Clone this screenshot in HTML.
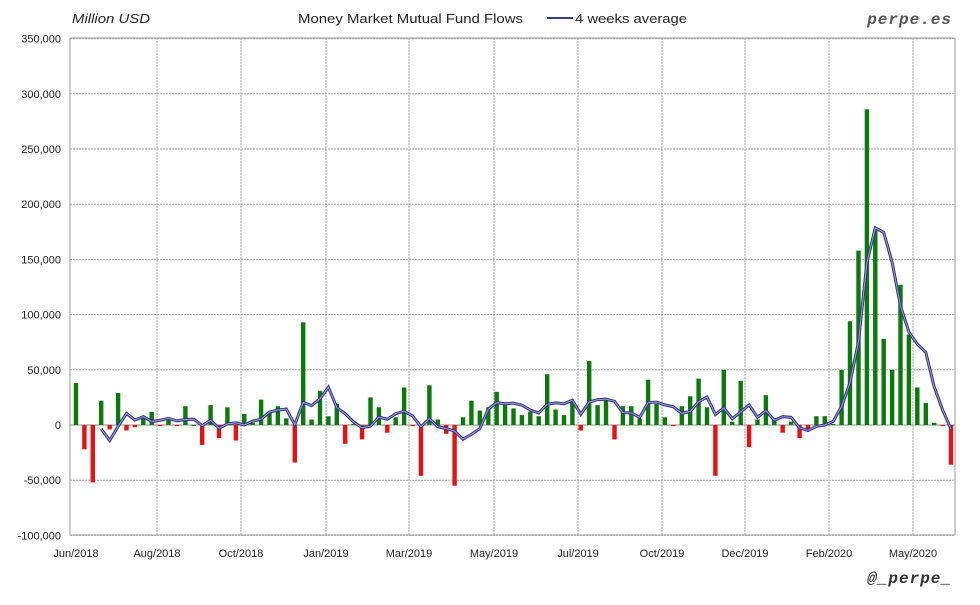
<!DOCTYPE html>
<html><head><meta charset="utf-8"><style>
html,body{margin:0;padding:0;background:#fff;}
svg text{font-family:"Liberation Sans",sans-serif;}
</style></head><body>
<svg id="s" width="980" height="600" xmlns="http://www.w3.org/2000/svg">
<text x="72" y="23" font-size="13" font-style="italic" fill="#222" textLength="78" lengthAdjust="spacingAndGlyphs">Million USD</text>
<text x="298" y="23" font-size="13" fill="#222" textLength="225" lengthAdjust="spacingAndGlyphs">Money Market Mutual Fund Flows</text>
<line x1="547" y1="18" x2="573" y2="18" stroke="#3a3a8a" stroke-width="2"/>
<text x="575" y="23" font-size="13" fill="#222" textLength="112" lengthAdjust="spacingAndGlyphs">4 weeks average</text>
<text x="952" y="24" font-size="16" font-weight="bold" font-style="italic" fill="#555" text-anchor="end" font-family="Liberation Mono" style="font-family:'Liberation Mono',monospace" letter-spacing="1">perpe.es</text>
<text x="952" y="583" font-size="16" font-weight="bold" font-style="italic" fill="#333" text-anchor="end" style="font-family:'Liberation Mono',monospace" letter-spacing="1">@_perpe_</text>
<g id="g"></g>
</svg>
<script>
var g=document.getElementById('g'),h='';
var L=70,R=955,T=38,B=535;
function y(v){return 425-v*1.104;}
for(var v=-100;v<=350;v+=50){var yy=y(v).toFixed(1);
h+='<line x1="'+L+'" x2="'+R+'" y1="'+yy+'" y2="'+yy+'" stroke="#aaa" stroke-dasharray="2,1"/>';
var s=v==0?'0':(v<0?'-':'')+Math.abs(v)+',000';
h+='<text x="61" y="'+(+yy+4)+'" font-size="11" text-anchor="end" fill="#222">'+s+'</text>';}
var xl=[[76,'Jun/2018',0],[157,'Aug/2018',1],[241,'Oct/2018',1],[326,'Jan/2019',1],[409,'Mar/2019',1],[494,'May/2019',1],[578,'Jul/2019',1],[662,'Oct/2019',1],[745,'Dec/2019',1],[829,'Feb/2020',1],[913,'May/2020',1]];
xl.forEach(function(a){if(a[2])h+='<line x1="'+a[0]+'" x2="'+a[0]+'" y1="'+T+'" y2="'+B+'" stroke="#aaa" stroke-dasharray="2,1"/>';
h+='<text x="'+a[0]+'" y="557" font-size="11" text-anchor="middle" fill="#222">'+a[1]+'</text>';});
h+='<rect x="'+L+'" y="'+T+'" width="'+(R-L)+'" height="'+(B-T)+'" fill="none" stroke="#999"/>';
var d=[38,-22,-52,22,-4,29,-5,-2,8,12,-1,5,-1,17,0,-18,18,-12,16,-14,10,2,23,12,17,6,-34,93,5,31,8,19,-17,1,-13,25,16,-7,7,34,-1,-46,36,5,-8,-55,7,22,13,16,30,18,15,9,12,8,46,14,9,21,-5,58,18,23,-13,17,17,6,41,19,7,-1,17,26,42,16,-46,50,3,40,-20,5,27,5,-7,3,-12,-4,8,8,1,50,94,158,286,176,78,50,127,82,34,20,2,-1,-36];
var n=d.length,st=(951-76)/(n-1),pts=[];
h+='<line x1="'+L+'" x2="'+R+'" y1="425" y2="425" stroke="#888"/>';
d.forEach(function(v,i){var x=76+i*st,y0=y(0),y1=y(v);
h+='<rect x="'+(x-2.2).toFixed(1)+'" y="'+Math.min(y0,y1).toFixed(1)+'" width="4.4" height="'+Math.max(Math.abs(y1-y0),1).toFixed(1)+'" fill="'+(v>=0?'#0a7a0a':'#e81010')+'"/>';
if(i>=3){var a=(d[i]+d[i-1]+d[i-2]+d[i-3])/4;pts.push(x.toFixed(1)+','+y(a).toFixed(1));}});
h+='<polyline points="'+pts.join(' ')+'" fill="none" stroke="#33337f" stroke-width="3"/>';
h+='<polyline points="'+pts.join(' ')+'" fill="none" stroke="#a0a0d8" stroke-width="1"/>';
g.innerHTML=h;
</script>
</body></html>
